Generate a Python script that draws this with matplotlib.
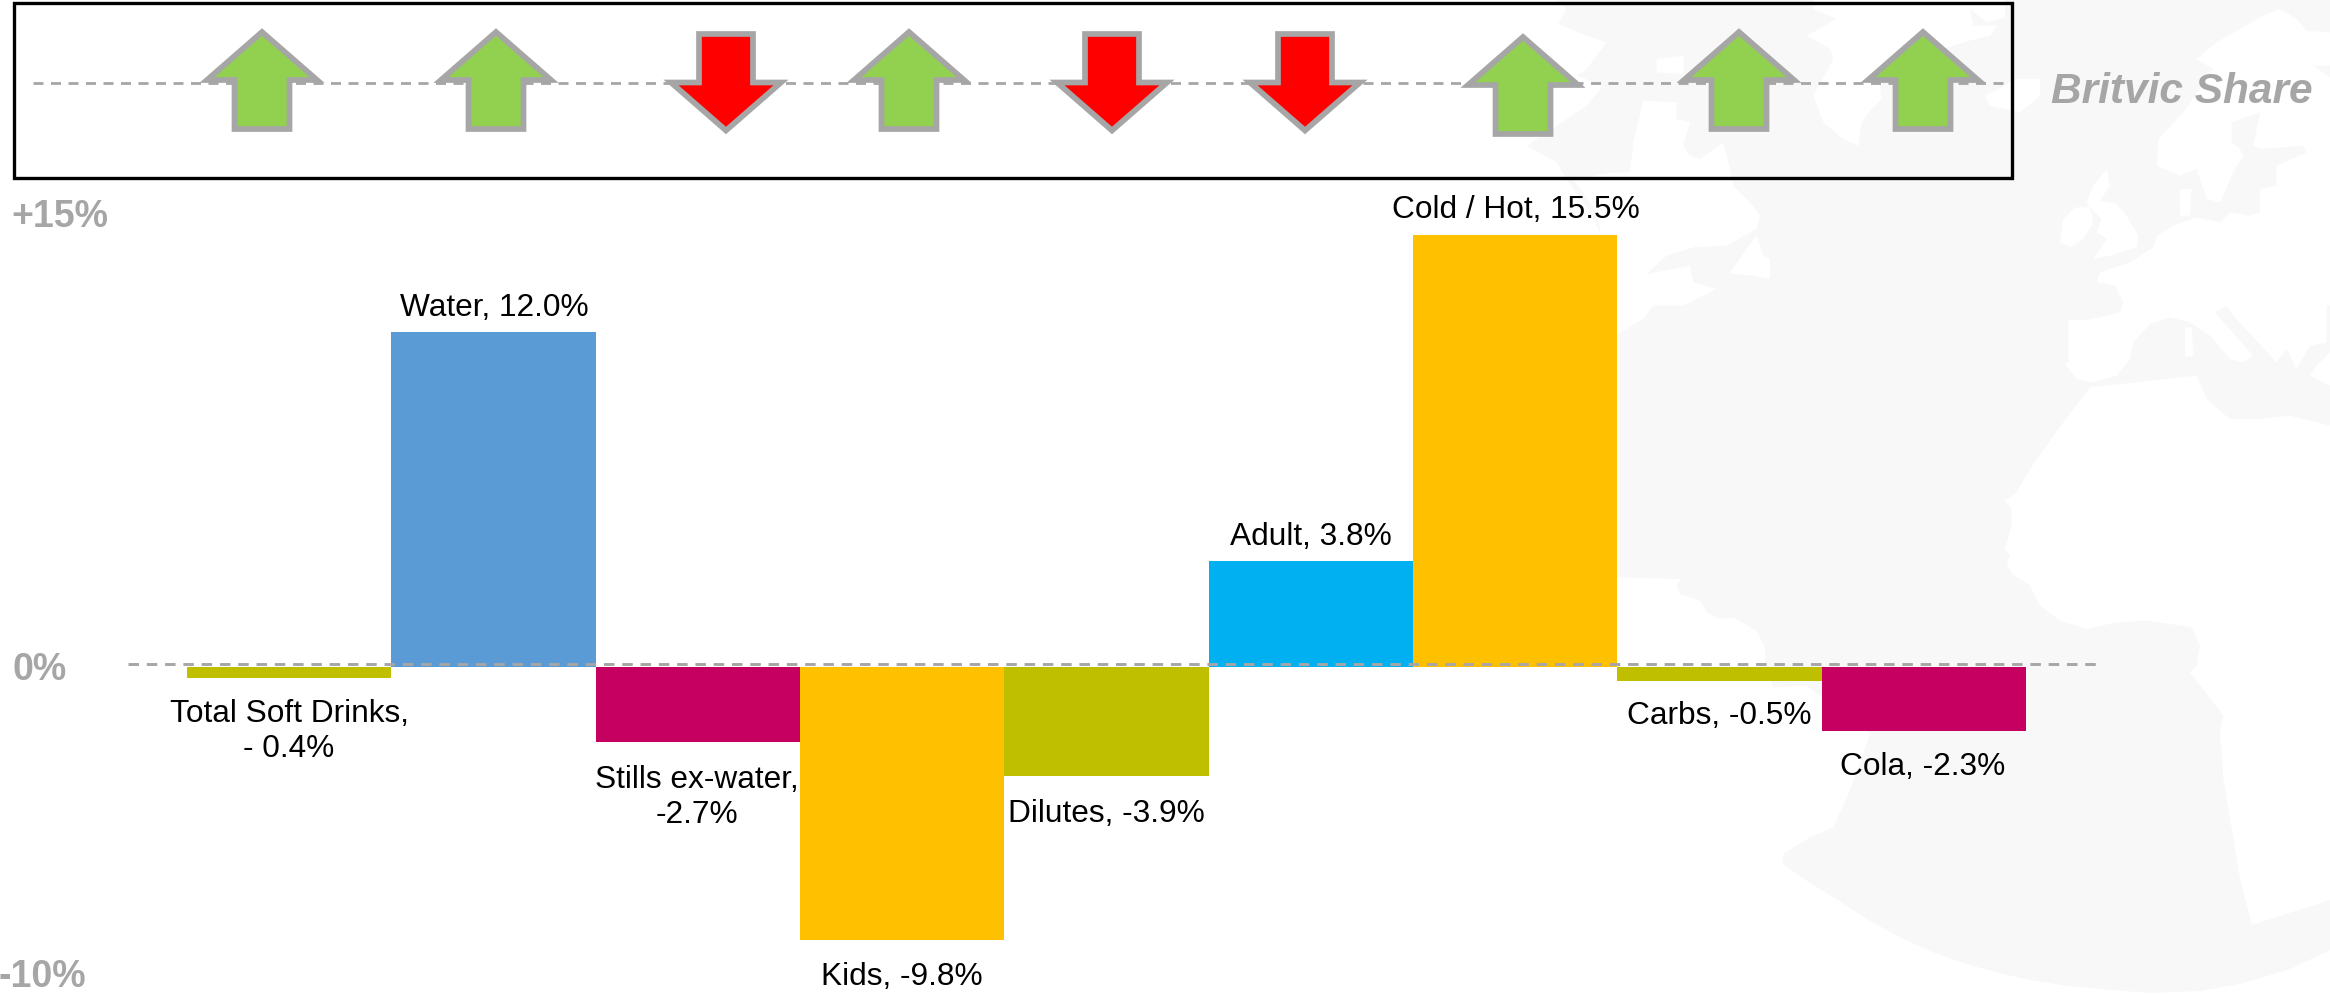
import matplotlib
matplotlib.use('Agg')
import matplotlib.pyplot as plt
from matplotlib.patches import Polygon, Rectangle

plt.rcParams['font.family'] = ['Liberation Sans', 'DejaVu Sans']

categories = ['Total Soft Drinks', 'Water', 'Stills ex-water', 'Kids', 'Dilutes',
              'Adult', 'Cold / Hot', 'Carbs', 'Cola']
values = [-0.4, 12.0, -2.7, -9.8, -3.9, 3.8, 15.5, -0.5, -2.3]
bar_labels = ['Total Soft Drinks,\n- 0.4%', 'Water, 12.0%', 'Stills ex-water,\n-2.7%',
              'Kids, -9.8%', 'Dilutes, -3.9%', 'Adult, 3.8%', 'Cold / Hot, 15.5%',
              'Carbs, -0.5%', 'Cola, -2.3%']
bar_colors = ['#BFBF00', '#5B9BD5', '#C60060', '#FFC000', '#BFBF00',
              '#00B0F0', '#FFC000', '#BFBF00', '#C60060']
share_up = [True, True, False, True, False, False, True, True, True]
axis_labels = ['+15%', '0%', '-10%']

# where things sit on the page, in pixels
label_pos = [(289, 757), (494, 316), (697, 823), (902, 985), (1106, 822),
             (1311, 545), (1516, 218), (1719, 724), (1923, 775)]
arrow_x = [262, 496, 726, 909, 1112, 1305, 1523, 1739, 1923]
arrow_dy = [0, 0, 0, 0, 0, 0, 5, 0, 0]
axis_label_pos = [(11, 227), (12, 680), (-2, 987)]

GREY = '#A6A6A6'
SEA = '#F8F8F8'


def crop(points, x0, y0):
    return [(x0 + x / 3, y0 + y / 3) for x, y in points]


# background map
sea = (crop([(470, 0), (500, 30), (475, 75), (560, 110), (620, 130), (560, 210), (530, 230),
             (610, 260), (560, 320), (380, 440), (470, 490), (500, 540), (570, 640),
             (600, 700), (600, 900)], 1400, 0)
       + [(1600, 400), (1600, 578)]
       + crop([(54, 100), (245, 105), (230, 125), (240, 150), (300, 170), (320, 205),
               (360, 225), (400, 220), (470, 260), (495, 310), (495, 369), (520, 430),
               (620, 425), (810, 570), (750, 740), (700, 850), (630, 880), (550, 930),
               (548, 960), (620, 1010), (700, 1060), (800, 1125), (900, 1180), (1000, 1225),
               (1100, 1260), (1200, 1288), (1300, 1310), (1400, 1325), (1500, 1335)], 1600, 545)
       + [(2150, 994), (2200, 992), (2240, 985), (2290, 970), (2330, 951), (2330, 0)])

america = crop([(600, 690), (590, 640), (520, 540), (640, 520), (690, 520), (700, 430), (730, 305),
                (830, 310), (830, 360), (870, 370), (850, 440), (870, 470), (900, 480), (970, 430),
                (985, 490), (1000, 560), (1050, 610), (1080, 650), (1070, 690), (980, 740),
                (880, 745), (800, 770), (740, 825), (870, 800), (880, 850), (950, 870), (850, 920),
                (760, 920), (730, 960), (654, 1005), (600, 1005)], 1400, 0)
nova_scotia = crop([(990, 820), (1040, 750), (1070, 710), (1090, 770), (1110, 780), (1110, 840),
                    (1060, 830), (1000, 825)], 1400, 0)
arctic_island = crop([(770, 180), (850, 170), (850, 225), (770, 220)], 1400, 0)
greenland = (crop([(1240, 0), (1240, 30), (1310, 60), (1220, 110), (1290, 150), (1300, 180),
                   (1240, 290), (1270, 370), (1330, 420), (1375, 440)], 1400, 0)
             + crop([(95, 370), (125, 330), (155, 300), (150, 260), (250, 180), (400, 130), (480, 110),
                     (500, 80), (430, 80), (420, 30), (470, 70), (525, 55), (525, 0)], 1830, 0))
iceland = crop([(465, 290), (560, 240), (630, 240), (630, 290), (570, 340), (480, 320)], 1830, 0)
europe = crop([(985, 420), (980, 500), (1050, 530), (1100, 510), (1130, 600), (1170, 610), (1210, 520),
               (1240, 470), (1230, 450), (1205, 430), (1205, 370), (1290, 340), (1270, 440), (1290, 450),
               (1420, 440), (1430, 460), (1340, 500), (1340, 560), (1290, 570), (1290, 640), (1260, 650),
               (1200, 640), (1170, 670), (1100, 655), (1030, 680), (980, 710), (970, 745), (900, 790),
               (810, 820), (800, 850), (855, 860), (880, 910), (870, 940), (810, 955), (750, 965),
               (715, 960), (715, 1090), (705, 1095), (740, 1140), (790, 1150), (860, 1130), (900, 1080),
               (910, 1030), (960, 975), (1020, 955), (1080, 970), (1140, 1010), (1200, 1080), (1240, 1090),
               (1270, 1070), (1190, 980), (1155, 940), (1190, 920), (1210, 950), (1340, 1090), (1370, 1050),
               (1400, 1110), (1440, 1040), (1490, 1030), (1490, 920), (1500, 920), (1500, 235), (1450, 200),
               (1500, 200), (1500, 100), (1430, 95), (1400, 60), (1350, 30), (1300, 50), (1160, 130),
               (1100, 180), (1150, 210), (1060, 340)], 1830, 0)
denmark = crop([(1050, 570), (1085, 570), (1080, 650), (1050, 650)], 1830, 0)
turkey = crop([(1460, 1100), (1440, 1130), (1500, 1160), (1500, 1060)], 1830, 0)
ireland = crop([(690, 730), (700, 660), (735, 625), (780, 625), (790, 670), (760, 720), (720, 745)], 1830, 0)
britain = crop([(770, 610), (790, 560), (830, 510), (840, 560), (810, 605), (860, 615), (890, 650),
                (925, 710), (920, 745), (840, 770), (790, 780), (830, 720), (800, 700), (815, 660),
                (775, 620)], 1830, 0)
sardinia = crop([(1065, 985), (1085, 985), (1090, 1070), (1065, 1075)], 1830, 0)
africa = (crop([(780, 1165), (1050, 1135), (1100, 1130), (1130, 1200), (1200, 1260), (1290, 1260),
                (1380, 1250), (1500, 1280)], 1830, 0)
          + [(2330, 901), (2252, 926)]
          + crop([(1230, 1350), (1180, 1050), (1170, 905), (1180, 860), (1080, 730), (1100, 710),
                  (1110, 650), (1085, 595), (950, 575), (860, 580), (770, 600), (690, 575), (630, 530),
                  (600, 470), (570, 450), (545, 435), (530, 400), (540, 380), (525, 360), (545, 290),
                  (545, 240), (525, 215), (560, 190), (600, 120), (685, 0)], 1830, 430))
land = [america, nova_scotia, arctic_island, greenland, iceland, europe, denmark, turkey,
        ireland, britain, sardinia, africa]

fig = plt.figure(figsize=(23.3, 9.95), dpi=100)

page = fig.add_axes([0, 0, 1, 1], zorder=0)
page.set_xlim(0, 2330)
page.set_ylim(995, 0)
page.axis('off')

page.add_patch(Polygon(sea, closed=True, facecolor=SEA, edgecolor='none'))
for shape in land:
    page.add_patch(Polygon(shape, closed=True, facecolor='white', edgecolor='none'))

# share box
page.add_patch(Rectangle((14, 4), 1998, 175, fill=False, edgecolor='black', linewidth=2.4))
page.plot([33, 2004], [83.6, 83.6], color=GREY, linewidth=2.0, dashes=(3.6, 2.7))

for x, up, dy in zip(arrow_x, share_up, arrow_dy):
    if up:
        pts = [(x, 33), (x + 55, 81), (x + 27.5, 81), (x + 27.5, 130),
               (x - 27.5, 130), (x - 27.5, 81), (x - 55, 81)]
    else:
        pts = [(x, 131.5), (x + 55, 83.5), (x + 27, 83.5), (x + 27, 35),
               (x - 27, 35), (x - 27, 83.5), (x - 55, 83.5)]
    pts = [(a, b + dy) for a, b in pts]
    page.add_patch(Polygon(pts, closed=True, facecolor='#92D050' if up else '#FF0000',
                           edgecolor=GREY, linewidth=4.1, joinstyle='miter', zorder=3))

page.text(2051, 103, 'Britvic Share', color=GREY, fontsize=30.5, fontweight='bold',
          fontstyle='italic', ha='left', va='baseline')

for txt, (x, y) in zip(axis_labels, axis_label_pos):
    page.text(x, y, txt, color=GREY, fontsize=27, fontweight='bold', ha='left', va='baseline')

# bars, in data units
ax = fig.add_axes([187 / 2330, 1 - 947 / 995, 1839 / 2330, 725.4 / 995], zorder=1)
ax.patch.set_visible(False)
ax.bar(range(len(values)), values, width=1.0, color=bar_colors, linewidth=0)
ax.set_xlim(-0.5, len(values) - 0.5)
ax.set_ylim(-10, 16)
ax.axis('off')
ax.axhline(0.118, xmin=-0.032, xmax=1.0386, color=GREY, linewidth=2.1, dashes=(3.6, 2.67),
           clip_on=False, zorder=5)

for txt, (x, y) in zip(bar_labels, label_pos):
    ax.text(x, y, txt, transform=page.transData, color='black', fontsize=22.8, ha='center',
            va='baseline', linespacing=1.2, clip_on=False, zorder=6)

fig.savefig('out.png', dpi=100)
